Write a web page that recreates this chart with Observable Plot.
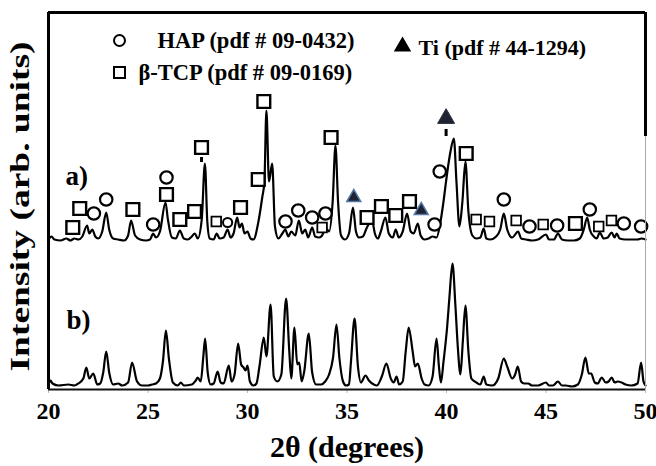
<!DOCTYPE html>
<html><head><meta charset="utf-8">
<script src="https://cdn.jsdelivr.net/npm/d3@7"></script>
<script src="https://cdn.jsdelivr.net/npm/@observablehq/plot@0.6"></script>
<style>
html,body{margin:0;padding:0;background:#fff;}
</style>
</head><body><div id="chart"></div>
<script>
// ---- data: [2θ, intensity above own baseline] ----
const traceA = [[20.0,2],[20.15,5],[20.3,2],[20.6,1],[20.9,3],[21.1,1],[21.3,3],[21.5,2],[21.7,5],[21.94,16],[22.05,8],[22.2,12],[22.35,5],[22.5,3],[22.7,10],[22.9,29],[23.05,12],[23.25,3],[23.5,2],[23.8,1],[24.0,6],[24.15,21],[24.35,6],[24.6,2],[24.9,1],[25.1,2],[25.26,8],[25.4,4],[25.6,10],[25.88,39],[26.0,22],[26.2,4],[26.4,3],[26.6,11],[26.8,3],[27.0,2],[27.2,5],[27.35,8],[27.5,3],[27.7,22],[27.86,78],[27.98,20],[28.1,3],[28.3,2],[28.45,8],[28.6,3],[28.8,4],[29.0,12],[29.15,4],[29.3,8],[29.48,24],[29.6,14],[29.72,18],[29.85,8],[30.0,10],[30.15,3],[30.3,2],[30.55,20],[30.74,44],[30.85,60],[30.95,131],[31.08,60],[31.24,78],[31.38,15],[31.55,3],[31.75,8],[31.9,12],[32.05,5],[32.2,10],[32.4,6],[32.58,21],[32.75,8],[32.9,12],[33.05,4],[33.25,14],[33.4,5],[33.6,4],[33.75,6],[33.92,14],[34.1,10],[34.28,40],[34.42,96],[34.55,40],[34.7,6],[34.9,2],[35.1,8],[35.3,34],[35.45,10],[35.6,4],[35.8,5],[36.0,14],[36.26,21],[36.4,8],[36.55,3],[36.7,10],[36.93,24],[37.1,8],[37.3,4],[37.45,12],[37.6,4],[37.8,10],[38.02,28],[38.2,10],[38.35,8],[38.56,18],[38.7,6],[38.9,2],[39.1,3],[39.3,5],[39.5,4],[39.7,20],[39.85,40],[40.03,68],[40.2,90],[40.37,103],[40.5,60],[40.65,15],[40.8,40],[40.95,80],[41.1,30],[41.3,6],[41.5,3],[41.7,4],[41.87,13],[42.0,3],[42.2,2],[42.5,5],[42.7,12],[42.88,28],[43.05,12],[43.3,4],[43.6,10],[43.75,3],[44.0,2],[44.3,1],[44.6,2],[45.0,7],[45.15,2],[45.4,2],[45.6,8],[45.8,2],[46.1,1],[46.4,1],[46.7,3],[46.9,12],[47.07,24],[47.2,12],[47.4,5],[47.55,3],[47.7,9],[47.9,3],[48.1,4],[48.3,9],[48.45,4],[48.55,8],[48.7,3],[49.0,2],[49.3,2],[49.6,2],[49.8,3],[50.0,2]];
const traceB = [[20.0,2],[20.1,6],[20.2,3],[20.5,1],[21.0,2],[21.3,1],[21.5,3],[21.75,8],[21.9,19],[22.05,8],[22.25,13],[22.45,2],[22.6,3],[22.75,14],[22.9,35],[23.05,14],[23.25,2],[23.5,3],[23.7,1],[24.0,4],[24.2,24],[24.45,5],[24.7,1],[25.0,1],[25.2,2],[25.4,3],[25.6,8],[25.75,25],[25.9,56],[26.05,28],[26.25,4],[26.5,1],[26.65,4],[26.8,1],[27.2,2],[27.4,6],[27.5,9],[27.65,5],[27.78,30],[27.87,48],[28.0,14],[28.15,2],[28.3,3],[28.5,15],[28.65,4],[28.8,3],[29.06,21],[29.2,5],[29.35,12],[29.53,43],[29.68,22],[29.8,19],[29.9,16],[30.0,21],[30.12,5],[30.3,1],[30.45,3],[30.6,20],[30.82,49],[30.95,30],[31.16,82],[31.32,10],[31.5,5],[31.7,12],[31.94,88],[32.1,35],[32.2,8],[32.36,59],[32.5,22],[32.6,24],[32.72,5],[32.85,15],[33.08,53],[33.25,14],[33.45,2],[33.7,2],[33.9,5],[34.1,12],[34.3,29],[34.47,62],[34.62,28],[34.8,5],[34.95,1],[35.1,2],[35.2,25],[35.38,68],[35.55,20],[35.7,4],[35.93,11],[36.1,6],[36.35,2],[36.5,1],[36.75,10],[36.98,23],[37.2,8],[37.35,4],[37.49,10],[37.62,2],[37.8,5],[37.95,35],[38.1,59],[38.3,35],[38.42,20],[38.56,23],[38.75,8],[38.9,2],[39.1,1],[39.3,10],[39.5,48],[39.62,20],[39.72,4],[39.85,25],[40.03,59],[40.15,90],[40.3,123],[40.45,80],[40.57,39],[40.7,12],[40.82,45],[40.95,81],[41.1,35],[41.25,8],[41.5,4],[41.7,2],[41.87,10],[42.0,2],[42.3,1],[42.6,8],[42.88,28],[43.05,20],[43.3,8],[43.45,12],[43.58,20],[43.75,5],[43.9,3],[44.1,3],[44.3,1],[44.6,1],[45.0,4],[45.15,1],[45.35,1],[45.6,5],[45.8,1],[46.0,1],[46.3,0],[46.6,2],[46.8,12],[46.98,29],[47.15,13],[47.27,13],[47.45,4],[47.6,3],[47.8,9],[48.0,4],[48.15,5],[48.3,9],[48.45,4],[48.6,5],[48.8,4],[49.0,2],[49.3,1],[49.6,3],[49.78,24],[49.9,5],[50.0,1]];
const offsetA = 145;   // vertical offset of pattern a)
// phase markers [2θ, level]
const hapMarks = [[22.28,173],[22.9,187],[25.26,162],[25.93,209],[31.91,165],[32.55,176],[33.25,169],[33.92,173],[39.4,162],[39.66,215],[42.88,187],[44.17,160],[45.56,161],[47.2,177],[48.91,163],[49.78,160]];
const hapMarksSmall = [[29.0,164]];
const tcpMarks = [[21.22,159],[21.57,178],[24.24,177],[25.93,192],[26.6,167],[27.34,175],[27.69,239],[29.65,179],[30.54,207],[30.82,285],[34.2,249],[36.01,169],[36.73,180],[37.45,171],[38.14,185],[40.99,233],[46.48,163]];
const tcpMarksSmall = [[28.43,165],[33.75,159],[41.49,167],[42.16,165],[43.5,166],[44.86,162],[47.65,160],[48.29,166]];
const tiMarks = [[35.34,189],[38.73,176]];
const tiMarksMain = [[39.98,268]];
const leaderMarks = [[27.69,224,229],[39.98,250,257]];
const xTicks = [20,25,30,35,40,45,50];
const xDomain = [20,50];
const yDomain = [-3,374];
const frameBreak = 250;
const legendHap = "HAP (pdf # 09-0432)";
const legendTcp = "β-TCP (pdf # 09-0169)";
const legendTi = "Ti (pdf # 44-1294)";
const labelA = "a)", labelB = "b)";
const xLabel = "2θ (degrees)";
const yLabel = "Intensity (arb. units)";

const dataA = traceA.map(([x,h]) => ({x, y: h + offsetA}));
const dataB = traceB.map(([x,h]) => ({x, y: h}));
const pts = a => a.map(([x,y]) => ({x,y}));

const serif = "'Liberation Serif','Times New Roman',serif";
const plot = Plot.plot({
  width: 656, height: 466,
  marginLeft: 48, marginRight: 11, marginTop: 12, marginBottom: 77,
  style: {fontFamily: serif, fontWeight: "bold", background: "white", color: "black", overflow: "visible"},
  x: {domain: xDomain},
  y: {domain: yDomain, axis: null},
  marks: [
    Plot.axisX({ticks: xTicks, tickSize: 4, tickPadding: 8, fontSize: 24, fontWeight: "bold", stroke: "#bbb", label: null, tickFormat: d => d}),
    Plot.line(dataA, {x: "x", y: "y", stroke: "black", strokeWidth: 2.2, curve: "monotone-x"}),
    Plot.line(dataB, {x: "x", y: "y", stroke: "black", strokeWidth: 2.2, curve: "monotone-x"}),
    Plot.ruleX(leaderMarks, {x: d => d[0], y1: d => d[1], y2: d => d[2], stroke: "black", strokeWidth: 3}),
    Plot.dot(pts(hapMarks), {x: "x", y: "y", r: 6.2, symbol: "circle", stroke: "black", strokeWidth: 2.2, fill: "white"}),
    Plot.dot(pts(hapMarksSmall), {x: "x", y: "y", r: 4.6, symbol: "circle", stroke: "black", strokeWidth: 2, fill: "white"}),
    Plot.dot(pts(tcpMarks), {x: "x", y: "y", r: 7.2, symbol: "square", stroke: "black", strokeWidth: 2.4, fill: "white"}),
    Plot.dot(pts(tcpMarksSmall), {x: "x", y: "y", r: 5.4, symbol: "square", stroke: "black", strokeWidth: 1.8, fill: "white"}),
    Plot.dot(pts(tiMarks), {x: "x", y: "y", r: 5.2, symbol: "triangle", stroke: "#5577a6", strokeWidth: 1.5, fill: "#1e2232"}),
    Plot.dot(pts(tiMarksMain), {x: "x", y: "y", r: 6.3, symbol: "triangle", stroke: "#2a2e3e", strokeWidth: 1, fill: "#1e2232"}),
    // frame
    Plot.ruleX([xDomain[0]], {stroke: "black", strokeWidth: 3}),
    Plot.ruleY([yDomain[0]], {stroke: "#111", strokeWidth: 2}),
    Plot.ruleY([yDomain[1]], {stroke: "black", strokeWidth: 3}),
    Plot.ruleX([xDomain[1]], {y1: frameBreak, y2: yDomain[1], stroke: "black", strokeWidth: 3}),
    Plot.ruleX([xDomain[1]], {y1: yDomain[0], y2: frameBreak, stroke: "#aaa", strokeWidth: 1}),
    // legend
    Plot.dot([0], {frameAnchor: "top-left", dx: 71, dy: 28, r: 5.5, symbol: "circle", stroke: "black", strokeWidth: 2, fill: "white"}),
    Plot.text([legendHap], {frameAnchor: "top-left", dx: 109, dy: 28, text: d => d, textAnchor: "start", lineAnchor: "middle", fontSize: 22.5, fontWeight: "bold"}),
    Plot.dot([0], {frameAnchor: "top-left", dx: 71, dy: 60, r: 6.2, symbol: "square", stroke: "black", strokeWidth: 2, fill: "white"}),
    Plot.text([legendTcp], {frameAnchor: "top-left", dx: 90, dy: 60, text: d => d, textAnchor: "start", lineAnchor: "middle", fontSize: 22.5, fontWeight: "bold"}),
    Plot.dot([0], {frameAnchor: "top-left", dx: 354, dy: 34, r: 5.5, symbol: "triangle", fill: "black", stroke: "black"}),
    Plot.text([legendTi], {frameAnchor: "top-left", dx: 370, dy: 35, text: d => d, textAnchor: "start", lineAnchor: "middle", fontSize: 22, fontWeight: "bold"}),
    // pattern labels
    Plot.text([labelA], {frameAnchor: "top-left", dx: 17, dy: 164, text: d => d, textAnchor: "start", lineAnchor: "middle", fontSize: 27, fontWeight: "bold"}),
    Plot.text([labelB], {frameAnchor: "top-left", dx: 18, dy: 308, text: d => d, textAnchor: "start", lineAnchor: "middle", fontSize: 27, fontWeight: "bold"}),
    // axis titles
    Plot.text([xLabel], {frameAnchor: "bottom", dy: 58, text: d => d, lineAnchor: "middle", fontSize: 30, fontWeight: "bold"}),
    Plot.text([yLabel], {frameAnchor: "bottom-left", dx: -28, dy: -18, rotate: -90, text: d => d, textAnchor: "start", lineAnchor: "middle", fontSize: 27, fontWeight: "bold"})
  ]
});
document.getElementById("chart").appendChild(plot);
// stretch y title along its length as in the reference
d3.select(plot).selectAll("text").filter(function(){ return this.textContent === yLabel; })
  .attr("textLength", 330).attr("lengthAdjust", "spacingAndGlyphs");
</script>
</body></html>
